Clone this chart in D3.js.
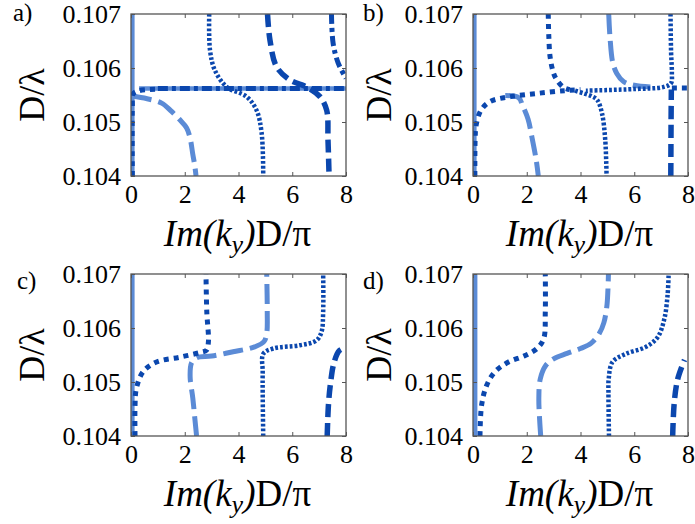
<!DOCTYPE html>
<html><head><meta charset="utf-8">
<script src="https://cdn.jsdelivr.net/npm/d3@7"></script>
<style>body{margin:0;background:#fff}svg{display:block}svg text{font-family:"Liberation Serif","Times New Roman",serif}</style>
</head><body>
<svg id="c" width="695" height="524"></svg>
<script>
// ---- data ----
const xTicks = [0, 2, 4, 6, 8];
const yTicks = [0.104, 0.105, 0.106, 0.107];
const panelLabels = ["a)", "b)", "c)", "d)"];

// panel a
const a_lightSolid = [[0.05,0.104],[0.05,0.107]];
const a_lightHoriz = [[0.3,0.10562],[8,0.10562]];
const a_thickDot = [[0.05,0.104],[0.05,0.1053],[0.08,0.10552],[0.3,0.10558],[1.0,0.10561]];
const a_dashDotH = [[1.0,0.10562],[8,0.10562]];
const a_lightDash = [[0.03,0.10548],[0.6,0.10543],[1.14,0.10535],[1.5,0.1052],[1.8,0.10505],[2.07,0.10489],[2.2,0.1047],[2.3,0.1044],[2.37,0.1042],[2.42,0.104]];
const a_thinDot = [[2.91,0.107],[2.94,0.10633],[3.12,0.10596],[3.56,0.10565],[4.3,0.10547],[4.67,0.10522],[4.86,0.1048],[4.92,0.104]];
const a_thickDash = [[5.08,0.107],[5.17,0.10652],[5.42,0.10602],[5.91,0.10578],[6.53,0.10565],[7.03,0.10547],[7.28,0.10522],[7.33,0.10467],[7.37,0.104]];
const a_dashDot = [[7.46,0.107],[7.52,0.10646],[7.71,0.10609],[8.0,0.10581]];

// panel b
const b_lightSolid = [[0.05,0.104],[0.05,0.107]];
const b_lightDash1 = [[1.2,0.10549],[1.7,0.10545],[1.85,0.1053],[2.05,0.10505],[2.2,0.1047],[2.35,0.1043],[2.43,0.104]];
const b_lightDash2 = [[5.05,0.107],[5.1,0.10655],[5.2,0.1061],[5.35,0.1059],[5.6,0.10575],[6.0,0.10568],[6.6,0.10565]];
const b_thickDotA = [[0.07,0.104],[0.08,0.1047],[0.12,0.10495],[0.3,0.10522],[0.64,0.10538],[1.4,0.10547],[2.4,0.10553],[3.4,0.10558],[4.0,0.1056]];
const b_thickDotB = [[2.8,0.107],[2.82,0.1066],[2.87,0.1062],[3.0,0.1059],[3.12,0.10578],[3.37,0.10564],[3.6,0.1056]];
const b_thickDotR = [[7.4,0.10563],[8,0.10563]];
const b_thinDot1 = [[3.8,0.10558],[4.12,0.10553],[4.4,0.10548],[4.62,0.10541],[4.8,0.10516],[4.92,0.10467],[4.97,0.104]];
const b_thinDot2 = [[7.35,0.107],[7.37,0.1063],[7.4,0.1059],[7.37,0.10572],[7.1,0.10565],[6.0,0.10561],[4.2,0.10558]];
const b_thickDash = [[7.36,0.104],[7.37,0.105],[7.38,0.1056]];

// panel c
const c_lightSolid = [[0.05,0.104],[0.05,0.107]];
const c_thickDot = [[0.15,0.104],[0.15,0.10457],[0.2,0.10488],[0.45,0.10519],[0.95,0.10537],[1.82,0.10546],[2.6,0.10555],[2.81,0.10559],[2.88,0.10574],[2.82,0.1063],[2.79,0.107]];
const c_lightDash = [[2.44,0.104],[2.38,0.1043],[2.3,0.1047],[2.2,0.1051],[2.25,0.10535],[2.45,0.10545],[3.0,0.10548],[3.8,0.10556],[4.6,0.10565],[4.95,0.10575],[5.05,0.1059],[5.07,0.1063],[5.05,0.107]];
const c_thinDot = [[4.92,0.104],[4.9,0.1048],[4.9,0.10519],[4.92,0.10552],[5.29,0.10562],[6.28,0.10568],[6.9,0.10577],[7.09,0.10593],[7.15,0.1063],[7.15,0.107]];
const c_thickDash = [[7.3,0.104],[7.35,0.1046],[7.43,0.105],[7.55,0.10535],[7.75,0.10558],[8,0.10564]];

// panel d
const d_lightSolid = [[0.08,0.104],[0.08,0.107]];
const d_thickDot = [[0.26,0.104],[0.32,0.10457],[0.51,0.10494],[0.82,0.10519],[1.32,0.10537],[1.94,0.10549],[2.38,0.10562],[2.63,0.1058],[2.69,0.1063],[2.69,0.107]];
const d_lightDash = [[2.52,0.104],[2.48,0.1043],[2.45,0.1047],[2.5,0.10505],[2.7,0.1053],[3.0,0.10543],[3.5,0.10553],[4.0,0.10562],[4.4,0.10572],[4.7,0.1059],[4.87,0.1061],[4.98,0.1064],[5.02,0.1067],[5.04,0.107]];
const d_thinDot = [[5.06,0.104],[5.04,0.1048],[5.05,0.10506],[5.19,0.10537],[5.68,0.10552],[6.43,0.10565],[6.87,0.10583],[7.12,0.10617],[7.24,0.10661],[7.28,0.107]];
const d_thickDash = [[7.43,0.104],[7.49,0.10463],[7.62,0.10506],[7.87,0.10541]];

// ---- styles ----
const DARK = "#0b47ae", LIGHT = "#5b8bd6";
const styles = {
  lightSolid: {c: LIGHT, w: 4.5, d: null},
  lightDash:  {c: LIGHT, w: 5, d: "20,7"},
  thickDot:   {c: DARK, w: 5, d: "5,5"},
  thinDot:    {c: DARK, w: 4.5, d: "2.8,2"},
  thickDash:  {c: DARK, w: 5.5, d: "13,6"},
  dashDot:    {c: DARK, w: 5, d: "10,4,4,4"}
};

const panels = [
  {x: 131, y: 14, lx: 13, ly: 21, ylabX: 44, series: [
    [a_lightSolid,"lightSolid"],[a_lightHoriz,"lightSolid"],[a_lightDash,"lightDash"],
    [a_thickDot,"thickDot"],[a_dashDotH,"dashDot"],[a_thinDot,"thinDot"],[a_thickDash,"thickDash"],[a_dashDot,"dashDot"]]},
  {x: 473, y: 14, lx: 363, ly: 21, ylabX: 391, series: [
    [b_lightSolid,"lightSolid"],[b_lightDash1,"lightDash"],[b_lightDash2,"lightDash"],
    [b_thickDotA,"thickDot"],[b_thickDotB,"thickDot"],[b_thickDotR,"thickDot"],
    [b_thinDot1,"thinDot"],[b_thinDot2,"thinDot"],[b_thickDash,"thickDash"]]},
  {x: 131, y: 274, lx: 17, ly: 289, ylabX: 44, series: [
    [c_lightSolid,"lightSolid"],[c_lightDash,"lightDash"],
    [c_thickDot,"thickDot"],[c_thinDot,"thinDot"],[c_thickDash,"thickDash"]]},
  {x: 473, y: 274, lx: 363, ly: 289, ylabX: 391, series: [
    [d_lightSolid,"lightSolid"],[d_lightDash,"lightDash"],
    [d_thickDot,"thickDot"],[d_thinDot,"thinDot"],[d_thickDash,"thickDash"]]}
];

const W = 215, H = 162;
const svg = d3.select("#c");
const FONT = "Liberation Serif, Times New Roman, serif";

panels.forEach((p, i) => {
  const x = d3.scaleLinear().domain([0, 8]).range([0, W]);
  const y = d3.scaleLinear().domain([0.104, 0.107]).range([H, 0]);
  const g = svg.append("g").attr("transform", `translate(${p.x},${p.y})`);
  const cid = "clip" + i;
  g.append("clipPath").attr("id", cid).append("rect").attr("width", W).attr("height", H);

  const line = d3.line().x(d => x(d[0])).y(d => y(d[1])).curve(d3.curveCatmullRom.alpha(0.5));
  const plot = g.append("g").attr("clip-path", `url(#${cid})`);
  p.series.forEach(([data, sname]) => {
    const s = styles[sname];
    plot.append("path").attr("d", line(data)).attr("fill", "none")
      .attr("stroke", s.c).attr("stroke-width", s.w)
      .attr("stroke-dasharray", s.d).attr("stroke-linecap", "butt");
  });

  // frame
  g.append("rect").attr("width", W).attr("height", H).attr("fill", "none")
    .attr("stroke", "#555").attr("stroke-width", 1.3);

  // axes (ticks inward)
  const xb = g.append("g").attr("transform", `translate(0,${H})`)
    .call(d3.axisBottom(x).tickValues(xTicks).tickSize(-4).tickPadding(9).tickFormat(d3.format("d")));
  const xt = g.append("g").call(d3.axisTop(x).tickValues(xTicks).tickSize(-4).tickFormat(""));
  const yl = g.append("g").call(d3.axisLeft(y).tickValues(yTicks).tickSize(-4).tickPadding(10).tickFormat(d3.format(".3f")));
  const yr = g.append("g").attr("transform", `translate(${W},0)`).call(d3.axisRight(y).tickValues(yTicks).tickSize(-4).tickFormat(""));
  [xb, xt, yl, yr].forEach(a => {
    a.attr("font-family", FONT);
    a.select(".domain").remove();
    a.selectAll(".tick line").attr("stroke", "#555").attr("stroke-width", 1);
    a.selectAll("text").attr("font-family", FONT).attr("font-size", 26).attr("fill", "#000");
  });
  xb.selectAll("text").attr("dy", "0.71em");

  // x axis label
  const xl = g.append("text").attr("x", W / 2 - 1).attr("y", H + 70).attr("text-anchor", "middle")
    .attr("font-family", FONT).attr("font-size", 37).attr("fill", "#000");
  xl.append("tspan").attr("font-style", "italic").text("Im(k");
  xl.append("tspan").attr("font-style", "italic").attr("font-size", 26).attr("dy", 7).text("y");
  xl.append("tspan").attr("font-style", "italic").attr("dy", -7).text(")");
  xl.append("tspan").text("D/π");

  // y axis label
  svg.append("text").attr("transform", `translate(${p.ylabX},${p.y + H / 2}) rotate(-90)`)
    .attr("text-anchor", "middle").attr("font-family", FONT).attr("font-size", 36).attr("fill", "#000")
    .text("D/λ");

  // panel label
  svg.append("text").attr("x", p.lx).attr("y", p.ly).attr("font-family", FONT)
    .attr("font-size", 25).attr("fill", "#000").text(panelLabels[i]);
});
</script>
</body></html>
